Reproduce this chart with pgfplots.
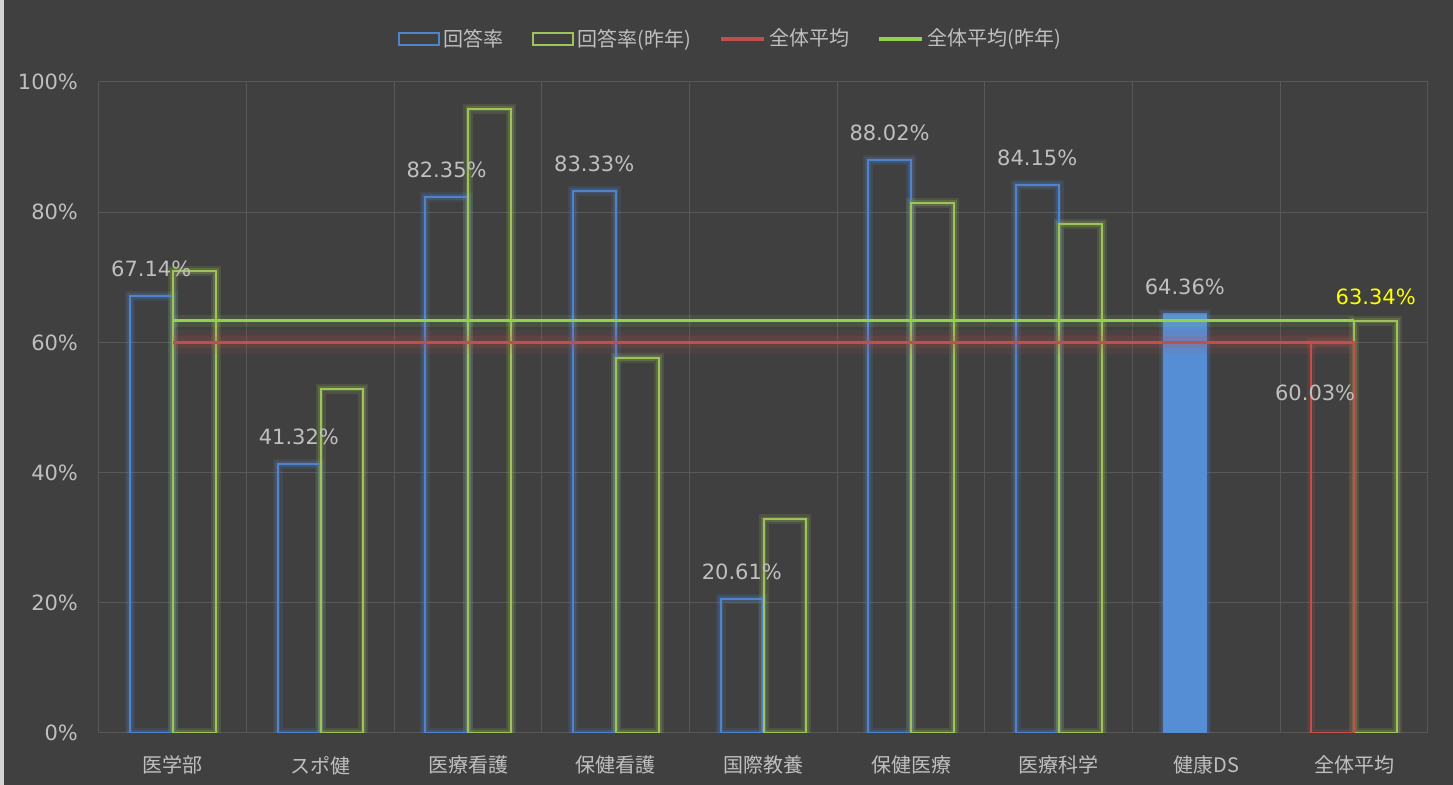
\documentclass[border=0pt]{standalone}
\usepackage{pgfplots}
\pgfplotsset{compat=1.18}
\usepackage{fontspec}
\setmainfont{DejaVu Sans}
\newfontfamily\jp{Noto Sans CJK JP}

\definecolor{bg}{HTML}{404040}
\definecolor{edge}{HTML}{D4D4D4}
\definecolor{gridc}{HTML}{585858}
\definecolor{lbl}{HTML}{BFBFBF}
\definecolor{blueo}{HTML}{4F84CB}
\definecolor{bluef}{HTML}{558ED5}
\definecolor{greeno}{HTML}{9DC35A}
\definecolor{greenl}{HTML}{92D050}
\definecolor{redl}{HTML}{C0504D}
\definecolor{yel}{HTML}{FFFF00}

\begin{document}
\begin{tikzpicture}
\fill[bg] (-49.5pt,-30pt) rectangle (700pt,371pt);
\fill[edge] (-53pt,-30pt) rectangle (-47.7pt,371pt);
\begin{axis}[
    scale only axis,
    width=664.5pt, height=325.5pt,
    xmin=-0.5, xmax=8.5, ymin=0, ymax=100,
    axis line style={draw=none},
    tick style={draw=none},
    xtick={0,...,8},
    xticklabels={医学部,スポ健,医療看護,保健看護,国際教養,保健医療,医療科学,健康DS,全体平均},
    minor xtick={-0.5,0.5,...,8.5},
    xminorgrids, ymajorgrids,
    grid style={gridc, line width=0.5pt},
    minor grid style={gridc, line width=0.5pt},
    ytick={0,20,...,100},
    yticklabels={0\%,20\%,40\%,60\%,80\%,100\%},
    yticklabel style={font=\fontsize{10.5}{12}\selectfont, text=lbl, xshift=-7pt},
    xticklabel style={font=\jp\fontsize{10}{12}\selectfont, text=lbl, yshift=-8pt},
    legend columns=-1,
    legend style={at={(0.5,1)}, anchor=center, xshift=-16pt, yshift=21.5pt,
        draw=none, fill=none, text=lbl, font=\jp\fontsize{10}{12}\selectfont,
        /tikz/every even column/.append style={column sep=12pt}},
]
% glow under the bars
\addplot[ybar, bar width=0.29, bar shift=-0.146, draw=blueo, draw opacity=0.14, line width=5pt, fill=none, forget plot]
    coordinates {(0,67.14) (1,41.32) (2,82.35) (3,83.33) (4,20.61) (5,88.02) (6,84.15) (7,64.36)};
\addplot[ybar, bar width=0.29, bar shift=-0.146, draw=blueo, draw opacity=0.22, line width=2.8pt, fill=none, forget plot]
    coordinates {(0,67.14) (1,41.32) (2,82.35) (3,83.33) (4,20.61) (5,88.02) (6,84.15) (7,64.36)};
\addplot[ybar, bar width=0.29, bar shift=0.146, draw=greeno, draw opacity=0.14, line width=5pt, fill=none, forget plot]
    coordinates {(0,71.0) (1,52.9) (2,95.9) (3,57.6) (4,32.8) (5,81.4) (6,78.2) (8,63.34)};
\addplot[ybar, bar width=0.29, bar shift=0.146, draw=greeno, draw opacity=0.22, line width=2.8pt, fill=none, forget plot]
    coordinates {(0,71.0) (1,52.9) (2,95.9) (3,57.6) (4,32.8) (5,81.4) (6,78.2) (8,63.34)};
\addplot[ybar, bar width=0.29, bar shift=-0.146, draw=redl, draw opacity=0.18, line width=4pt, fill=none, forget plot]
    coordinates {(8,60.03)};

% 回答率
\addplot[ybar, bar width=0.29, bar shift=-0.146, draw=blueo, line width=1pt, fill=none,
    legend image code/.code={\draw[blueo, line width=1pt] (0pt,-3pt) rectangle (20pt,3pt);},
    nodes near coords={\pgfmathprintnumber[fixed,fixed zerofill,precision=2,assume math mode=true]{\pgfplotspointmeta}\%},
    every node near coord/.append style={anchor=center, xshift=-10.8pt, yshift=13.5pt, text=lbl, font=\fontsize{10.5}{12}\selectfont}]
    coordinates {(0,67.14) (1,41.32) (2,82.35) (3,83.33) (4,20.61) (5,88.02) (6,84.15) (7,64.36)};
\addlegendentry{回答率}
% 回答率(昨年)
\addplot[ybar, bar width=0.29, bar shift=0.146, draw=greeno, line width=1pt, fill=none,
    legend image code/.code={\draw[greeno, line width=1pt] (0pt,-3pt) rectangle (20pt,3pt);}]
    coordinates {(0,71.0) (1,52.9) (2,95.9) (3,57.6) (4,32.8) (5,81.4) (6,78.2) (8,63.34)};
\addlegendentry{回答率(昨年)}
% 健康DS (filled) and 全体平均 (red)
\addplot[ybar, bar width=0.29, bar shift=-0.146, draw=bluef, fill=bluef, line width=0.5pt, forget plot]
    coordinates {(7,64.36)};
\addplot[ybar, bar width=0.29, bar shift=-0.146, draw=redl, line width=1pt, fill=none, forget plot]
    coordinates {(8,60.03)};

% average lines
\addplot[draw=redl, draw opacity=0.10, line width=12pt, forget plot] coordinates {(0,60.03) (8,60.03)};
\addplot[draw=redl, draw opacity=0.16, line width=6pt, forget plot] coordinates {(0,60.03) (8,60.03)};
\addplot[draw=greenl, draw opacity=0.12, line width=6pt, forget plot] coordinates {(0,63.34) (8,63.34)};
\addplot[draw=redl, line width=1.6pt,
    legend image code/.code={\draw[redl, line width=1.6pt] (0pt,0pt) -- (21.5pt,0pt);}]
    coordinates {(0,60.03) (8,60.03)};
\addlegendentry{全体平均}
\addplot[draw=greenl, line width=1.6pt,
    legend image code/.code={\draw[greenl, line width=1.6pt] (0pt,0pt) -- (21.5pt,0pt);}]
    coordinates {(0,63.34) (8,63.34)};
\addlegendentry{全体平均(昨年)}

\node[text=lbl, font=\fontsize{10.5}{12}\selectfont] at (axis cs:8,60.03) [xshift=-19.5pt, yshift=-25.5pt] {60.03\%};
\node[text=yel, font=\fontsize{10.5}{12}\selectfont] at (axis cs:8.146,63.34) [yshift=12pt] {63.34\%};
\end{axis}
\pgfresetboundingbox
\useasboundingbox (-49.5pt,-26pt) rectangle (677pt,366.5pt);
\end{tikzpicture}
\end{document}
